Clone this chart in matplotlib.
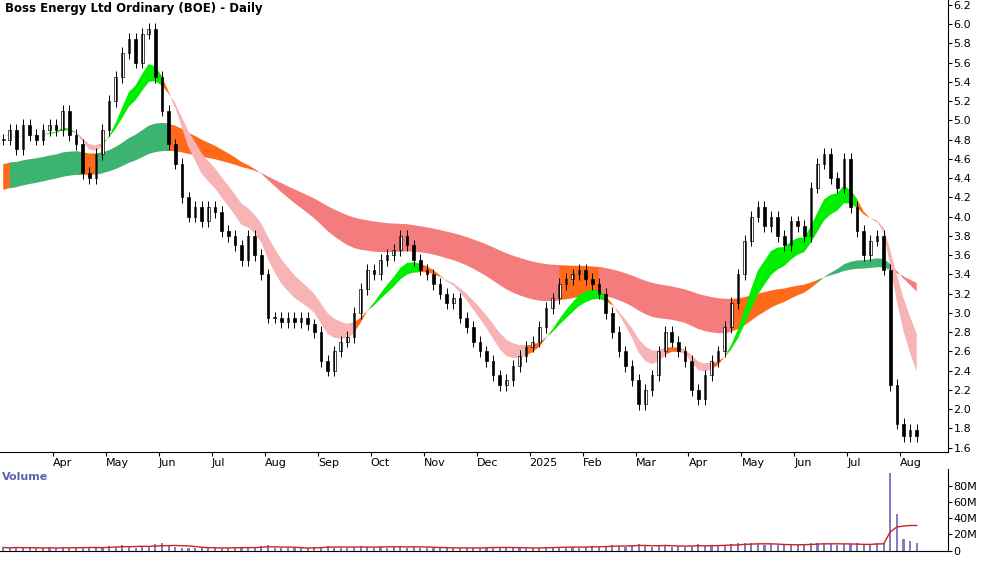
import matplotlib.pyplot as plt
import numpy as np
import pandas as pd

# semiweekly closes before the visible window (Jul 2023 - Feb 2024), only feed the averages
history = [
    2.10, 2.15, 2.20, 2.15, 2.25, 2.30, 2.35, 2.45,   # Jul 23
    2.50, 2.60, 2.70, 2.75, 2.85, 2.95, 3.00, 3.10,   # Aug
    3.20, 3.30, 3.40, 3.50, 3.60, 3.70, 3.80, 3.90,   # Sep
    4.00, 3.95, 3.90, 3.85, 3.80, 3.90, 4.00, 4.10,   # Oct
    4.20, 4.30, 4.40, 4.35, 4.30, 4.25, 4.35, 4.45,   # Nov
    4.50, 4.60, 4.70, 4.80, 4.90, 4.85, 4.80, 4.90,   # Dec
    5.00, 5.10, 5.20, 5.10, 5.00, 4.95, 4.90, 5.00,   # Jan 24
    4.95, 4.90, 4.80, 4.90, 4.80, 4.70, 4.80, 4.85,   # Feb
]
# semiweekly closes, 8 per month starting Mar 2024 (last month partial)
closes = [
    4.80, 4.90, 4.70, 4.95, 4.85, 4.80, 4.90, 4.95,   # Mar 24
    4.90, 5.10, 4.85, 4.75, 4.45, 4.40, 4.65, 4.90,   # Apr
    5.20, 5.45, 5.70, 5.85, 5.60, 5.90, 5.95, 5.45,   # May
    5.10, 4.75, 4.55, 4.20, 4.00, 4.10, 3.95, 4.10,   # Jun
    4.05, 3.85, 3.80, 3.70, 3.55, 3.80, 3.60, 3.40,   # Jul
    2.95, 2.95, 2.90, 2.95, 2.90, 2.95, 2.88, 2.80,   # Aug
    2.50, 2.40, 2.60, 2.70, 2.75, 3.00, 3.25, 3.45,   # Sep
    3.40, 3.55, 3.60, 3.65, 3.80, 3.70, 3.55, 3.45,   # Oct
    3.40, 3.30, 3.20, 3.10, 3.15, 2.95, 2.85, 2.70,   # Nov
    2.60, 2.50, 2.35, 2.25, 2.30, 2.45, 2.55, 2.65,   # Dec
    2.70, 2.85, 3.05, 3.15, 3.30, 3.35, 3.40, 3.45,   # Jan 25
    3.35, 3.30, 3.20, 3.00, 2.80, 2.60, 2.45, 2.30,   # Feb
    2.05, 2.20, 2.35, 2.60, 2.80, 2.70, 2.60, 2.50,   # Mar
    2.20, 2.10, 2.35, 2.50, 2.60, 2.85, 3.10, 3.40,   # Apr
    3.75, 4.00, 4.10, 3.90, 4.00, 3.80, 3.70, 3.95,   # May
    3.90, 3.80, 4.30, 4.55, 4.65, 4.40, 4.30, 4.60,   # Jun
    4.10, 3.85, 3.60, 3.75, 3.80, 3.45, 2.25, 1.85,   # Jul
    1.72, 1.78, 1.72,                                 # Aug
]
volumes = [
    4, 3, 5, 3, 4, 3, 3, 4,  3, 5, 4, 3, 4, 5, 3, 4,  6, 5, 7, 5, 4, 6, 5, 8,
    9, 6, 5, 4, 4, 3, 4, 3,  4, 3, 4, 4, 5, 3, 4, 6,  7, 4, 3, 3, 3, 3, 4, 5,
    5, 6, 4, 4, 3, 5, 6, 5,  4, 5, 4, 5, 6, 4, 5, 4,  4, 3, 4, 3, 3, 4, 4, 3,
    4, 4, 5, 4, 4, 3, 3, 3,  4, 4, 5, 4, 5, 4, 5, 4,  5, 6, 5, 6, 7, 6, 5, 7,
    8, 6, 5, 6, 7, 5, 6, 5,  6, 8, 6, 7, 6, 7, 8, 9,  10, 9, 8, 7, 8, 7, 7, 8,
    7, 8, 9, 10, 9, 8, 7, 8,  8, 9, 7, 8, 10, 9, 96, 45,  14, 12, 10,
]
months = ['Apr', 'May', 'Jun', 'Jul', 'Aug', 'Sep', 'Oct', 'Nov', 'Dec', '2025',
          'Feb', 'Mar', 'Apr', 'May', 'Jun', 'Jul', 'Aug']

c = np.array(closes)
v = np.array(volumes, dtype=float) * 1e6
x = np.arange(len(c)) / 8.0 + 0.06
o = np.r_[c[0], c[:-1]]
hi = np.maximum(o, c) + 0.06
lo = np.minimum(o, c) - 0.06

full = pd.Series(history + closes)
n0 = len(history)
f1 = full.ewm(span=8).mean().values[n0:]
s1 = full.ewm(span=13).mean().values[n0:]
f2 = full.ewm(span=45).mean().values[n0:]
s2 = full.ewm(span=95).mean().values[n0:]

fig = plt.figure(figsize=(10, 5.62), dpi=100)
ax = fig.add_axes([0.0, 0.195, 0.948, 0.805])
axv = fig.add_axes([0.0, 0.02, 0.948, 0.145])

def grow(m):
    return m | np.r_[m[1:], False] | np.r_[False, m[:-1]]

def ribbon(a, fast, slow, up, down, orange='#ff6a1a'):
    rising = np.r_[0, 0, fast[2:] - fast[:-2]] > 0
    g = (fast >= slow) & rising
    r = (fast < slow) & ~rising
    og = ~(g | r)
    a.fill_between(x, fast, slow, where=grow(og), color=orange, lw=0)
    a.fill_between(x, fast, slow, where=grow(g), color=up, lw=0)
    a.fill_between(x, fast, slow, where=grow(r), color=down, lw=0)

ribbon(ax, f2, s2, '#3cb371', '#f47c7c')
ribbon(ax, f1, s1, '#00ee00', '#f8b4b4')

for xi, oi, ci, h, l in zip(x, o, c, hi, lo):
    ax.vlines(xi, l, h, color='black', lw=0.7)
    ax.bar(xi, abs(ci - oi) or 0.01, bottom=min(oi, ci), width=0.05,
           color='white' if ci >= oi else 'black', edgecolor='black', lw=0.5)

ax.set_xlim(0, 17.9)
ax.set_ylim(1.55, 6.25)
ax.yaxis.tick_right()
ax.set_yticks(np.arange(1.6, 6.21, 0.2))
ax.set_yticklabels([f'{t:.1f}' for t in np.arange(1.6, 6.21, 0.2)])
ax.set_xticks(np.arange(1, 18))
ax.set_xticklabels(months)
ax.tick_params(axis='both', labelsize=8, length=3, pad=1)
for lab in ax.get_xticklabels():
    lab.set_horizontalalignment('left')
ax.text(0.005, 0.995, 'Boss Energy Ltd Ordinary (BOE) - Daily', transform=ax.transAxes,
        ha='left', va='top', fontsize=8.5, fontweight='bold')
for sp in ['top', 'left']:
    ax.spines[sp].set_visible(False)

axv.bar(x, v, width=0.04, color='#8080c0')
axv.plot(x, pd.Series(v).rolling(6, min_periods=1).mean(), color='#d02020', lw=1)
axv.set_xlim(0, 17.9)
axv.set_ylim(0, 100e6)
axv.yaxis.tick_right()
axv.set_yticks([0, 20e6, 40e6, 60e6, 80e6])
axv.set_yticklabels(['0', '20M', '40M', '60M', '80M'])
axv.set_xticks([])
axv.tick_params(labelsize=8, length=3, pad=1)
axv.text(0.002, 0.97, 'Volume', transform=axv.transAxes, ha='left', va='top',
         fontsize=8, color='#6060b0', fontweight='bold')
for sp in ['top', 'left']:
    axv.spines[sp].set_visible(False)

fig.savefig('out.png')
